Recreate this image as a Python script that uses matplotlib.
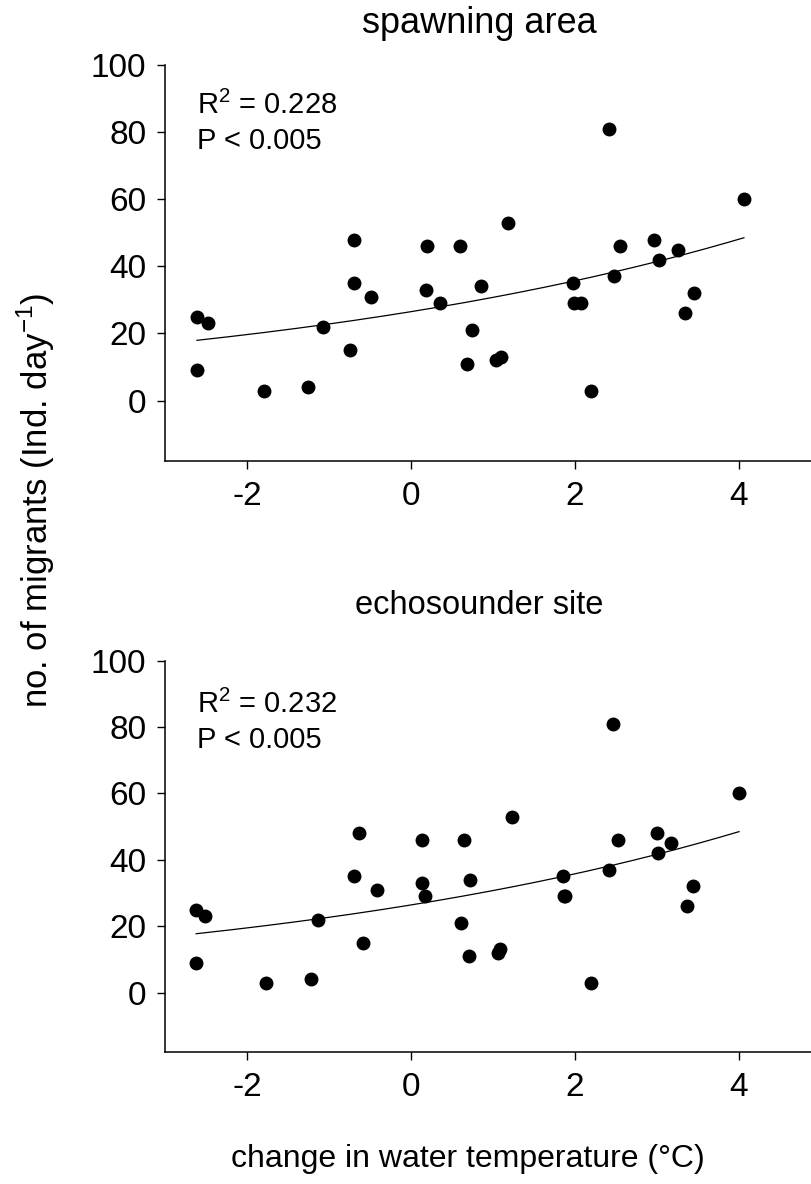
import numpy as np
import matplotlib
matplotlib.use("Agg")
import matplotlib.pyplot as plt

plt.rcParams['font.family'] = ['Liberation Sans', 'DejaVu Sans']
plt.rcParams['mathtext.fontset'] = 'custom'
plt.rcParams['mathtext.rm'] = 'Liberation Sans'
plt.rcParams['axes.unicode_minus'] = False

# spawning area
spawn_temp = [-2.61, -2.48, -2.61, -1.79, -1.25, -1.07, -0.74, -0.70, -0.70, -0.49,
              0.20, 0.18, 0.35, 0.60, 0.74, 0.68, 0.85, 1.18, 1.04, 1.10,
              1.97, 1.99, 2.07, 2.20, 2.41, 2.47, 2.55, 2.96, 3.02, 3.26,
              3.45, 3.34, 4.06]
spawn_migr = [25, 23, 9, 3, 4, 22, 15, 48, 35, 31,
              46, 33, 29, 46, 21, 11, 34, 53, 12, 13,
              35, 29, 29, 3, 81, 37, 46, 48, 42, 45,
              32, 26, 60]

# echosounder site
echo_temp = [-2.62, -2.51, -2.62, -1.77, -1.22, -1.13, -0.69, -0.64, -0.59, -0.41,
             0.13, 0.13, 0.17, 0.65, 0.72, 0.61, 0.71, 1.06, 1.09, 1.23,
             1.85, 1.87, 1.88, 2.20, 2.46, 2.42, 2.53, 3.00, 3.01, 3.17,
             3.44, 3.37, 4.00]
echo_migr = [25, 23, 9, 3, 4, 22, 35, 48, 15, 31,
             46, 33, 29, 46, 34, 21, 11, 12, 13, 53,
             35, 29, 29, 3, 81, 37, 46, 48, 42, 45,
             32, 26, 60]

# exponential fit y = a*exp(b*x), coefficients
spawn_fit = (26.5, 0.149)
echo_fit = (26.4, 0.152)

titles = ["spawning area", "echosounder site"]
stats = ["R$^{\\mathregular{2}}$ = 0.228\nP < 0.005",
         "R$^{\\mathregular{2}}$ = 0.232\nP < 0.005"]

W, H = 812, 1184
fig = plt.figure(figsize=(W / 100, H / 100), dpi=100)

panels = [
    (spawn_temp, spawn_migr, spawn_fit, (65, 461)),
    (echo_temp, echo_migr, echo_fit, (660.7, 1052.3)),
]
title_y = [33, 614]
title_size = [26, 23.5]
stat_y = [149, 748]

for i, (x, y, fit, (top, bot)) in enumerate(panels):
    ax = fig.add_axes([165 / W, 1 - bot / H, 656 / W, (bot - top) / H])
    ax.plot(x, y, 'o', color='black', ms=9, mec='black')
    xs = np.linspace(min(x), max(x), 200)
    ax.plot(xs, fit[0] * np.exp(fit[1] * xs), color='black', lw=0.9)
    ax.set_xlim(-3, 5)
    ax.set_ylim(-18, 100)
    ax.set_xticks([-2, 0, 2, 4])
    ax.set_yticks([0, 20, 40, 60, 80, 100])
    for s in ['top', 'right']:
        ax.spines[s].set_visible(False)
    for s in ['left', 'bottom']:
        ax.spines[s].set_linewidth(1.1)
    ax.tick_params(direction='out', length=5.5, width=1.0, labelsize=24)
    ax.tick_params(axis='y', pad=8)
    ax.tick_params(axis='x', pad=9)
    ax.text(197 / W, 1 - stat_y[i] / H, stats[i], transform=fig.transFigure,
            fontsize=21, va='baseline', ha='left', linespacing=1.3)
    fig.text(479 / W, 1 - title_y[i] / H, titles[i], fontsize=title_size[i],
             ha='center', va='baseline')

fig.text(36 / W, 1 - 500 / H, "no. of migrants (Ind. day$^{\\mathregular{-1}}$)",
         rotation=90, fontsize=25, ha='center', va='center')
fig.text(468 / W, 1 - 1167 / H, "change in water temperature (°C)",
         fontsize=23, ha='center', va='baseline')

fig.savefig("out.png", dpi=100)
